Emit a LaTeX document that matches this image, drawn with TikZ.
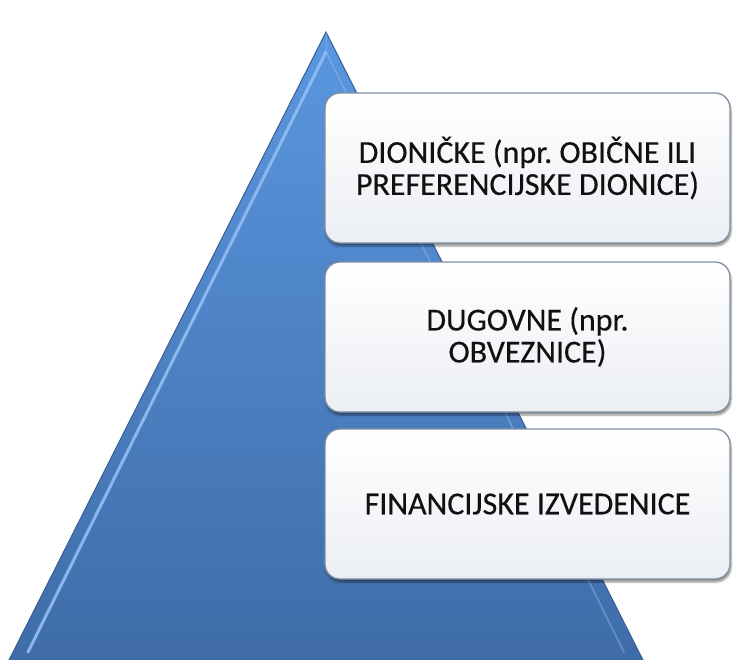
\documentclass[tikz,border=0pt]{standalone}
\usepackage{fontspec}
\setmainfont{Carlito}
\newfontfamily\boxfont[FakeBold=0.35]{Carlito}
\usetikzlibrary{shadows.blur,calc}
\definecolor{triTop}{HTML}{5A97E0}
\definecolor{triBot}{HTML}{3F6CA8}
\definecolor{triEdge}{HTML}{3A5F92}
\definecolor{triHi}{HTML}{92BEF2}
\definecolor{boxBorder}{HTML}{7F8EA3}
\definecolor{boxBot}{HTML}{EBEEF3}
\definecolor{txt}{HTML}{111111}
\tikzset{
  tierbox/.style={rounded corners=15pt, draw=boxBorder, line width=1.3pt,
    top color=white, bottom color=boxBot,
    blur shadow={shadow xshift=1pt, shadow yshift=-3pt, shadow blur steps=6, shadow opacity=45},
    minimum width=405pt, minimum height=150pt, align=center, text=txt,
    font=\boxfont\fontsize{32}{32}\selectfont\frenchspacing, inner sep=0pt},
}
\begin{document}
\begin{tikzpicture}[x=1pt,y=-1pt]
\useasboundingbox (0,0) rectangle (734,659);
\coordinate (apex) at (326,32);
\coordinate (bl) at (6,666);
\coordinate (br) at (646,666);
\coordinate (iapex) at (326,52);
\coordinate (ibl) at (28,652);
\coordinate (ibr) at (624,652);
\begin{scope}
\clip (0,0) rectangle (734,659);
\shade[top color=triTop, bottom color=triBot, draw=triEdge, line width=1pt] (apex) -- (br) -- (bl) -- cycle;
\draw[triHi, line width=3pt, line cap=round, opacity=0.9] (iapex) -- (ibl);
\draw[triHi, line width=1.6pt, line cap=round, opacity=0.45] (iapex) -- (ibr);
\draw[triHi, line width=1pt, opacity=0.5] (iapex) -- (apex);
\end{scope}
\node[tierbox] (b1) at (527.5,168) {DIONIČKE (npr. OBIČNE ILI\\PREFERENCIJSKE DIONICE)};
\node[tierbox] (b2) at (527.5,337) {DUGOVNE (npr.\\OBVEZNICE)};
\node[tierbox] (b3) at (527.5,504) {FINANCIJSKE IZVEDENICE};
\end{tikzpicture}
\end{document}
